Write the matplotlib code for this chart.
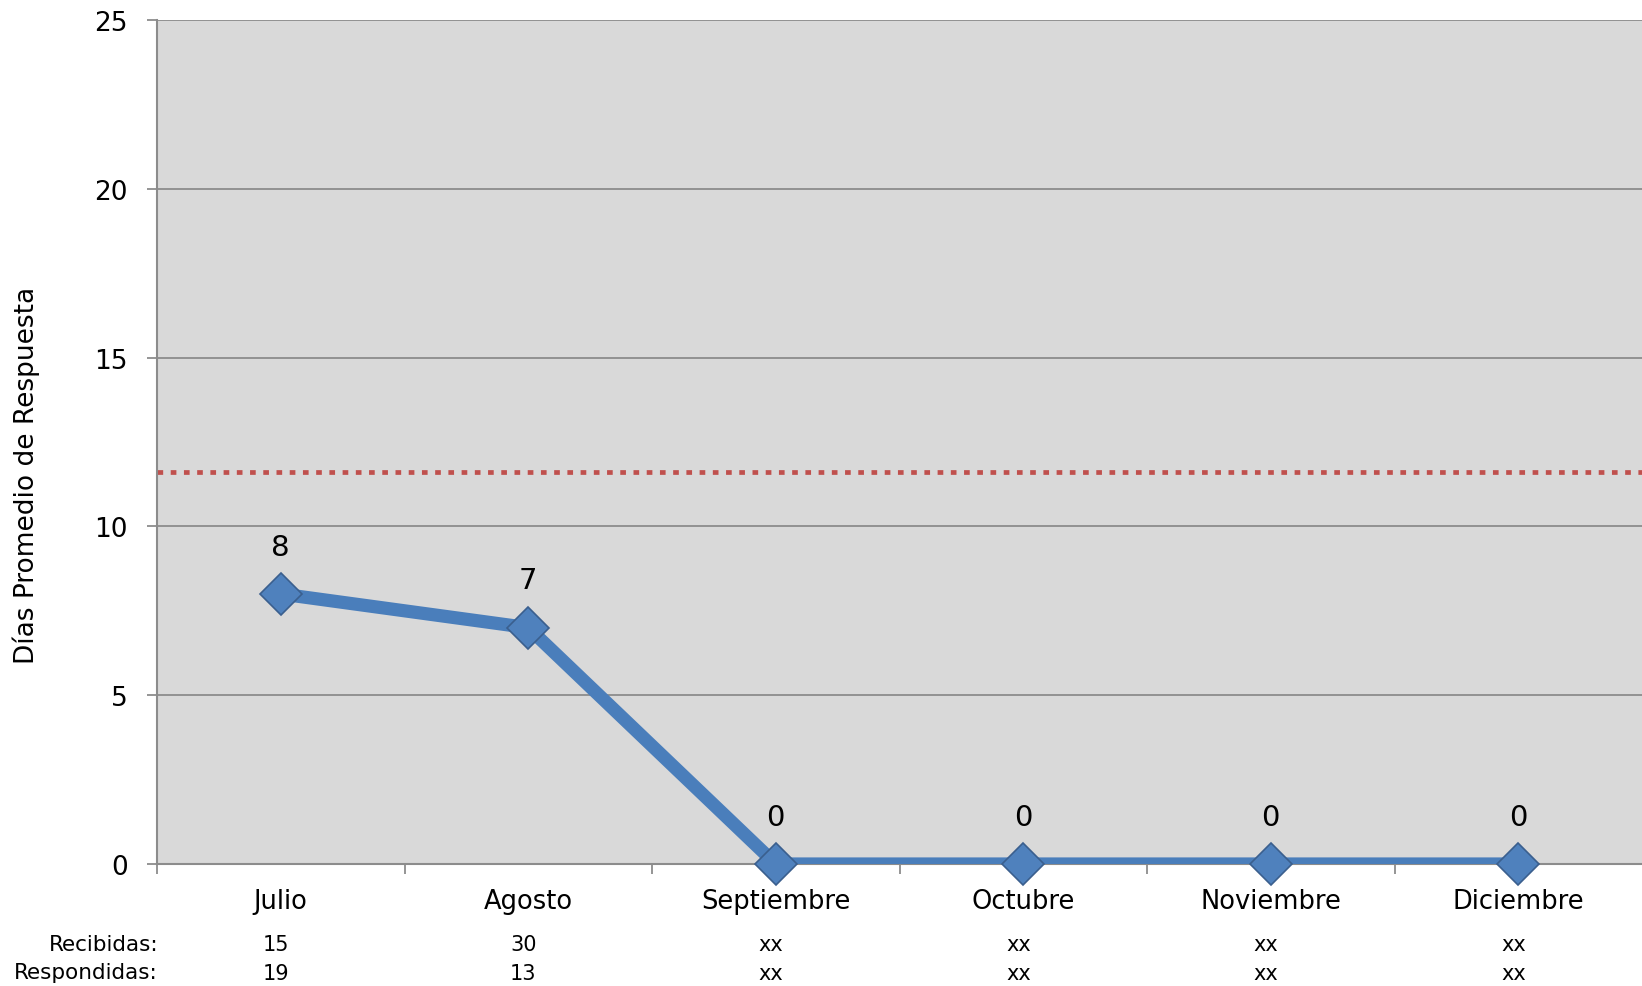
"""
Dias promedio de respuesta por mes (Julio - Diciembre).
"""
import matplotlib.pyplot as plt

C_LINE = "#4A7EBB"
C_MARK = "#4F81BD"
C_TARGET = "#C0504D"
C_GRID = "#8C8C8C"

plt.rcParams.update({
    "font.family": ["DejaVu Sans"],
    "font.size": 15,
})

meses = ["Julio", "Agosto", "Septiembre", "Octubre", "Noviembre", "Diciembre"]
dias = [8, 7, 0, 0, 0, 0]
meta = 11.6
recibidas = ["15", "30", "xx", "xx", "xx", "xx"]
respondidas = ["19", "13", "xx", "xx", "xx", "xx"]

fig = plt.figure(figsize=(16.42, 9.87), dpi=100)
ax = fig.add_axes([157 / 1642, 1 - 865 / 987, 1 - 157 / 1642, (865 - 21) / 987])
ax.set_facecolor("#D9D9D9")

x = list(range(len(meses)))
ax.set_xlim(-0.5, len(meses) - 0.5)
ax.set_ylim(0, 25)
ax.set_yticks([0, 5, 10, 15, 20, 25])
ax.grid(axis="y", color=C_GRID, lw=1.3)
ax.set_axisbelow(True)

ax.axhline(meta, color=C_TARGET, lw=3.4, linestyle=(0, (1.2, 1.6)), zorder=2)

ax.plot(x, dias, color=C_LINE, lw=9.5, zorder=3, solid_capstyle="butt")
ax.plot(x, dias, linestyle="none", marker="D", markersize=21, markerfacecolor=C_MARK,
        markeredgecolor="#3A5F8E", markeredgewidth=1.2, zorder=4, clip_on=False)

for xi, v in zip(x, dias):
    ax.annotate(f"{v}", (xi, v), xytext=(0, 34), textcoords="offset points",
                ha="center", va="center", fontsize=21)

# ticks mayores entre categorias, etiquetas en los menores
ax.set_xticks([i - 0.5 for i in x])
ax.set_xticklabels([])
ax.set_xticks(x, minor=True)
ax.set_xticklabels(meses, minor=True, fontsize=18.5)
ax.tick_params(axis="x", which="minor", length=0, pad=17)
ax.tick_params(axis="x", which="major", length=7, color=C_GRID, width=1.3)
ax.tick_params(axis="y", length=7, color=C_GRID, width=1.3, labelsize=19, pad=14)

for s in ["top", "right"]:
    ax.spines[s].set_visible(False)
for s in ["left", "bottom"]:
    ax.spines[s].set_color(C_GRID)
    ax.spines[s].set_linewidth(1.5)

fig.text(26 / 1642, 1 - 475 / 987, "Días Promedio de Respuesta", rotation=90,
         ha="center", va="center", fontsize=19)

# Tabla inferior
for xi, r, p in zip(x, recibidas, respondidas):
    ax.text(xi - 0.02, -0.095, r, transform=ax.get_xaxis_transform(), ha="center", va="center", fontsize=15)
    ax.text(xi - 0.02, -0.129, p, transform=ax.get_xaxis_transform(), ha="center", va="center", fontsize=15)
fig.text(158 / 1642, 1 - 945 / 987, "Recibidas:", ha="right", va="center", fontsize=15.5)
fig.text(158 / 1642, 1 - 973 / 987, "Respondidas:", ha="right", va="center", fontsize=15.5)

fig.savefig("out.png", dpi=100)
